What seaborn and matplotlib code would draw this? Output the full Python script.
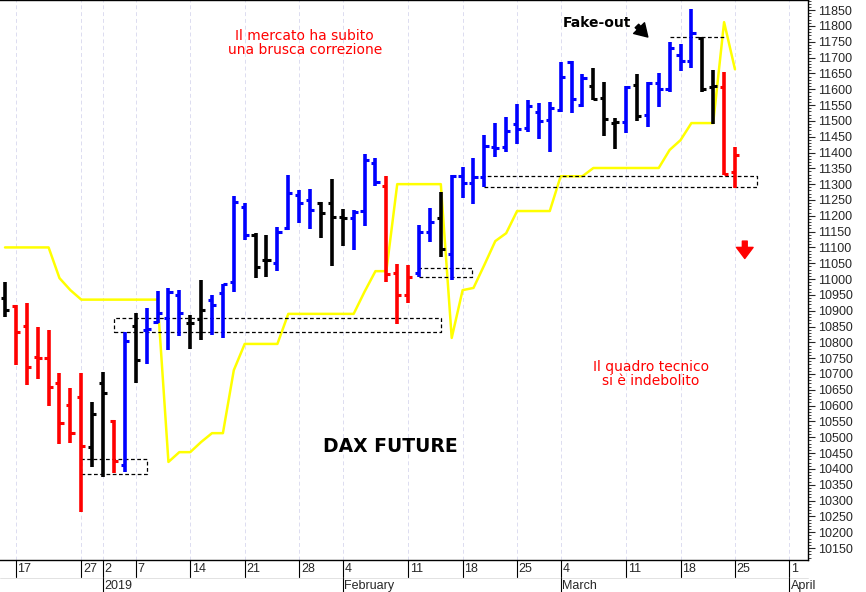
import matplotlib
matplotlib.use("Agg")
import matplotlib.pyplot as plt
import matplotlib.transforms as mtrans
import seaborn as sns
import numpy as np
import pandas as pd

# ---------------- data ----------------
opens = [10940,10915,10851,10753,10750,10671,10602,10627,10469,10671,10551,10412,10851,10839,10864,10877,10950,10861,10873,10934,
         10956,10990,11227,11139,11060,11050,11161,11265,11249,11240,11240,11196,11193,11215,11366,11294,11018,10950,11018,11148,
         11193,11079,11325,11303,11322,11417,11417,11490,11477,11528,11502,11534,11686,11550,11610,11572,11493,11496,11613,11518,
         11619,11600,11708,11689,11761,11607,11607,11338]
highs = [10990,10918,10924,10848,10839,10703,10656,10703,10611,10706,10554,10833,10892,10908,10962,10971,10965,10886,10997,10950,
         10984,11262,11240,11145,11139,11164,11328,11281,11284,11243,11316,11221,11218,11395,11382,11325,11047,11044,11170,11224,
         11275,11328,11354,11382,11455,11493,11512,11553,11566,11556,11559,11686,11689,11648,11667,11622,11509,11610,11648,11622,
         11651,11749,11743,11853,11761,11660,11654,11417]
lows = [10880,10728,10665,10684,10599,10479,10482,10264,10406,10374,10387,10390,10671,10731,10861,10775,10820,10779,10807,10823,
        10814,10959,11123,11003,11006,11025,11155,11177,11158,11130,11041,11104,11092,11167,11294,10990,10857,10924,11006,11117,
        11069,10997,11256,11237,11291,11385,11401,11427,11465,11442,11401,11528,11525,11543,11566,11452,11411,11461,11499,11480,
        11543,11591,11657,11667,11591,11490,11328,11288]
closes = [10902,10833,10722,10750,10659,10545,10513,10472,10573,10640,10425,10804,10744,10842,10892,10959,10892,10861,10902,10918,
          10984,11243,11139,11038,11060,11148,11272,11240,11218,11208,11196,11193,11212,11376,11306,11015,10950,11006,11148,11180,
          11094,11325,11303,11322,11420,11414,11468,11474,11547,11499,11540,11638,11569,11635,11569,11506,11496,11607,11515,11619,
          11600,11730,11689,11777,11600,11610,11332,11392]
bar_colors = (["k"] + ["r"]*7 + ["k","k","r","b","k"] + ["b"]*4 + ["k"]*2 + ["b"]*4 + ["k"]*2 + ["b"]*4
              + ["k"]*3 + ["b"]*3 + ["r"]*3 + ["b"]*2 + ["k"] + ["b"]*13 + ["k"]*3 + ["b"] + ["k"]
              + ["b"]*5 + ["k"]*2 + ["r"]*2)
yellow = [11100,11100,11100,11100,11100,11003,10965,10935,10935,10935,10935,10935,10935,10935,10935,10422,10453,10453,10485,10513,
          10513,10712,10795,10795,10795,10795,10890,10890,10890,10890,10890,10890,10890,10960,11025,11025,11300,11300,11300,11300,
          11300,10814,10965,10972,11045,11120,11145,11215,11215,11215,11215,11325,11325,11325,11351,11351,11351,11351,11351,11351,
          11351,11408,11439,11493,11493,11493,11812,11663]
tick_pos = [1,7,9,12,17,22,27,31,37,42,47,51,57,62,67,72]
tick_lab = ["17","27","2","7","14","21","28","4","11","18","25","4","11","18","25","1"]
month_pos = [9,31,51,72]
month_lab = ["2019","February","March","April"]
# dashed zones: (x0, x1, y_low, y_high)
zones = [(7,13,10384,10431),(10,40,10832,10877),(38,42.9,11006,11035),(44,69,11291,11325)]

# ---------------- plot ----------------
sns.set_style("white")
plt.rcParams['font.family'] = ['Liberation Sans', 'DejaVu Sans']
fig = plt.figure(figsize=(8.66, 5.92), dpi=100)
ax = fig.add_axes([0.0, 0.054, 0.933, 0.946])
cmap = {"k": "#000000", "r": "#ff0000", "b": "#0000ff"}
x = np.arange(len(opens))

for p in tick_pos:
    ax.axvline(p, color="#dcdcf0", lw=0.7, ls=(0, (4, 3)), zorder=0)

df = pd.DataFrame({"x": x, "y": yellow})
sns.lineplot(data=df, x="x", y="y", color="#ffff00", lw=1.8, ax=ax, zorder=1)

for i in x:
    c = cmap[bar_colors[i]]
    ax.vlines(i, lows[i], highs[i], color=c, lw=2.6, zorder=3)
    ax.hlines(opens[i], i - 0.38, i, color=c, lw=2.2, zorder=3)
    ax.hlines(closes[i], i, i + 0.38, color=c, lw=2.2, zorder=3)

for x0, x1, y0, y1 in zones:
    ax.plot([x0, x1, x1, x0, x0], [y0, y0, y1, y1, y0], color="k", lw=0.9, ls=(0, (3, 2)), zorder=2)
ax.plot([61, 66], [11765, 11765], color="k", lw=0.9, ls=(0, (3, 2)), zorder=2)

ax.set_xlim(-0.46, 73.7)
ax.set_ylim(10112, 11882)
ax.yaxis.tick_right()
ax.set_yticks(np.arange(10150, 11851, 50))
ax.set_yticks(np.arange(10120, 11881, 10), minor=True)
ax.tick_params(axis="y", which="major", length=5, labelsize=9, pad=2, right=True)
ax.tick_params(axis="y", which="minor", length=2.5, right=True)
ax.set_xticks([])
ax.set_xlabel("")
ax.set_ylabel("")
for s in ax.spines.values():
    s.set_color("black"); s.set_linewidth(1.0)
ax.spines["left"].set_visible(False)

tr = mtrans.blended_transform_factory(ax.transData, ax.transAxes)
for p, l in zip(tick_pos, tick_lab):
    ax.plot([p, p], [0, -0.03], transform=tr, color="k", lw=0.8, clip_on=False)
    ax.text(p + 0.15, -0.016, l, transform=tr, fontsize=9, ha="left", va="center")
ax.plot([-0.46, 73.7], [-0.032, -0.032], transform=tr, color="#dddddd", lw=0.6, clip_on=False)
for p, l in zip(month_pos, month_lab):
    ax.plot([p, p], [-0.032, -0.06], transform=tr, color="k", lw=0.8, clip_on=False)
    ax.text(p + 0.15, -0.046, l, transform=tr, fontsize=9, ha="left", va="center")

ax.text(27.5, 11745, "Il mercato ha subito\nuna brusca correzione", color="#ff0000", fontsize=10,
        ha="center", va="center", linespacing=1.0, family=["Verdana", "DejaVu Sans"])
ax.text(54.3, 11810, "Fake-out", color="k", fontsize=10, fontweight="bold", ha="center", va="center",
        family=["DejaVu Sans"])
ax.annotate("", xy=(59.0, 11765), xytext=(58.0, 11800),
            arrowprops=dict(arrowstyle="simple,head_width=1.1,head_length=0.9,tail_width=0.35",
                            color="k", mutation_scale=10, shrinkA=0, shrinkB=0))
ax.text(35.4, 10470, "DAX FUTURE", color="k", fontsize=13.5, fontweight="bold", ha="center", va="center",
        family=["DejaVu Sans"])
ax.text(59.3, 10700, "Il quadro tecnico\nsi è indebolito", color="#ff0000", fontsize=10,
        ha="center", va="center", linespacing=1.0, family=["DejaVu Sans"])
ax.annotate("", xy=(67.9, 11065), xytext=(67.9, 11120),
            arrowprops=dict(arrowstyle="simple,head_width=1.2,head_length=0.8,tail_width=0.35",
                            color="#ff0000", mutation_scale=10, shrinkA=0, shrinkB=0))

fig.savefig("out.png", dpi=100, facecolor="white")
